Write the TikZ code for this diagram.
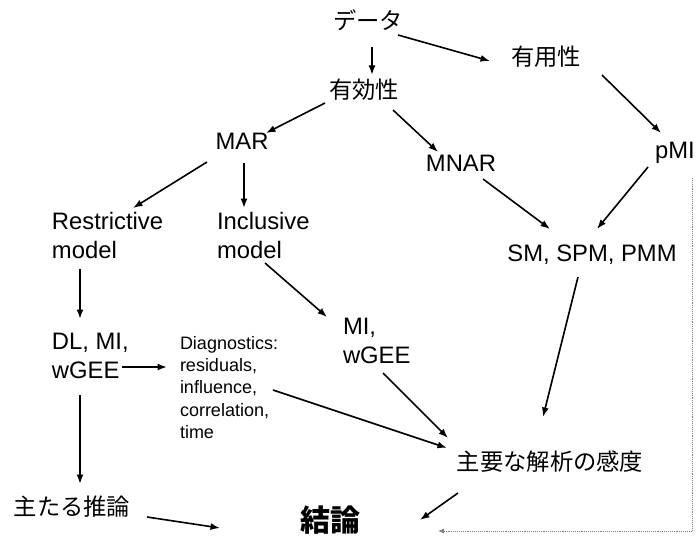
\documentclass[tikz,border=0pt]{standalone}
\usepackage{fontspec}
\setmainfont{Liberation Sans}
\newfontfamily\jp{Noto Sans CJK JP}
\usetikzlibrary{arrows.meta,calc}
\begin{document}
\begin{tikzpicture}[x=1pt,y=-1pt,
  every node/.style={inner sep=0pt,outer sep=0pt},
  lat/.style={font=\fontsize{23.8}{29}\selectfont,text height=0.72em,text depth=0pt},
  latm/.style={font=\fontsize{23.8}{29}\selectfont,align=left,anchor=west},
  diagt/.style={font=\fontsize{18}{22.2}\selectfont,align=left,anchor=west},
  ja/.style={font=\jp\fontsize{23.3}{29}\selectfont,text height=0.88em,text depth=0.12em},
  arr/.style={line width=1.6pt,-{Latex[length=9.5pt,width=7pt]}},
  dots/.style={densely dotted,gray,line width=0.9pt,-{Latex[length=6pt,width=5pt]}}]
\fill[white] (0,0) rectangle (697,543);
\useasboundingbox (0,0) rectangle (697,543);
% nodes
\node[ja] (data) at (368,26) {データ};
\node[ja] (useful) at (546,62) {有用性};
\node[ja] (valid) at (364,95) {有効性};
\node[lat] (mar) at (242,146) {MAR};
\node[lat] (mnar) at (461,168) {MNAR};
\node[lat] (pmi) at (675,155) {pMI};
\node[latm] (restr) at (52,235.5) {Restrictive\\model};
\node[latm] (incl) at (217,235.5) {Inclusive\\model};
\node[lat] (sm) at (592,258) {SM, SPM, PMM};
\node[latm] (dl) at (52,355.5) {DL, MI,\\wGEE};
\node[diagt] (diag) at (180,387.5) {Diagnostics:\\residuals,\\influence,\\correlation,\\time};
\node[latm] (miw) at (343,340.5) {MI,\\wGEE};
\node[ja] (sens) at (550,467) {主要な解析の感度};
\node[ja] (main) at (72,512) {主たる推論};
\node[font=\jp\bfseries\fontsize{30}{36}\selectfont,text height=0.88em,text depth=0.12em] (concl) at (330,528) {結論};
% connectors
\draw[arr] ($(data)+(4,21)$) -- ($(valid)+(8,-20)$);
\draw[arr] ($(data)+(30,9)$) -- ($(useful)+(-56,-1)$);
\draw[arr] ($(useful)+(56,13)$) -- ($(pmi)+(-14,-22)$);
\draw[arr] ($(valid)+(-39,8)$) -- ($(mar)+(24,-13)$);
\draw[arr] ($(valid)+(29,15)$) -- ($(mnar)+(-23,-16)$);
\draw[arr] ($(mar)+(-35,16)$) -- ($(restr.west)+(81,-27.5)$);
\draw[arr] ($(mar)+(2,17)$) -- ($(incl.west)+(27,-27.5)$);
\draw[arr] ($(mnar)+(22,11)$) -- ($(sm)+(-42,-29)$);
\draw[arr] ($(pmi)+(-27,12)$) -- ($(sm)+(5,-29)$);
\draw[arr] ($(restr.west)+(28,33.5)$) -- ($(dl.west)+(28,-36.5)$);
\draw[arr] ($(incl.west)+(48,27.5)$) -- ($(miw.west)+(-16,-23.5)$);
\draw[arr] ($(dl.west)+(70,11.5)$) -- ($(diag.west)+(-13,-20.5)$);
\draw[arr] ($(dl.west)+(28,39.5)$) -- ($(main)+(8,-28)$);
\draw[arr] ($(diag.west)+(93,2.5)$) -- ($(sens)+(-103,-19)$);
\draw[arr] ($(miw.west)+(40,32.5)$) -- ($(sens)+(-102,-29)$);
\draw[arr] ($(sm)+(-14,19)$) -- ($(sens)+(-7,-50)$);
\draw[arr] ($(main)+(75,5)$) -- ($(concl)+(-110,0)$);
\draw[arr] ($(sens)+(-92,26)$) -- ($(concl)+(90,-8)$);
\draw[dots] ($(pmi)+(17,23)$) |- ($(concl)+(108,3)$);
\end{tikzpicture}
\end{document}
